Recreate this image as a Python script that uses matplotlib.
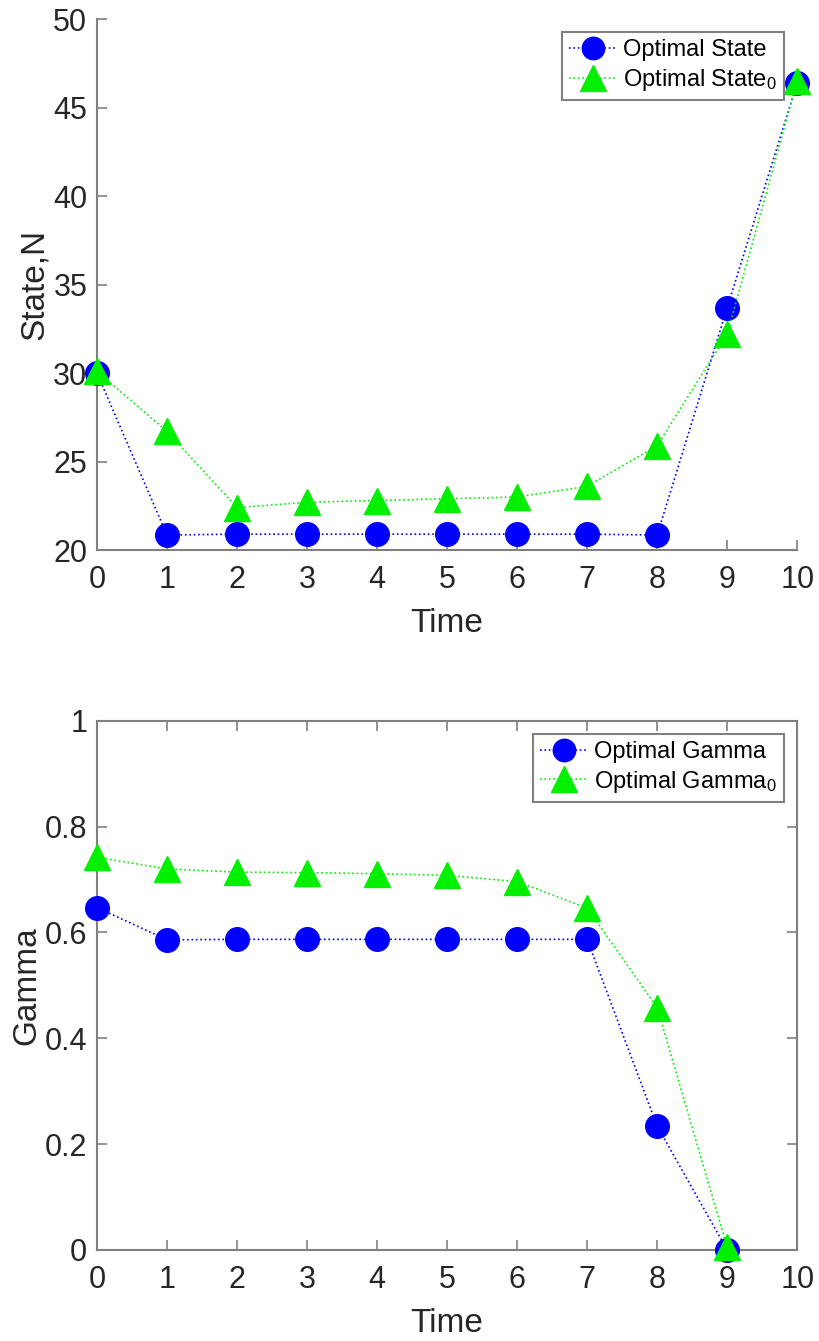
import numpy as np
import matplotlib
matplotlib.use("Agg")
import matplotlib.pyplot as plt

plt.rcParams['font.family'] = ['Liberation Sans', 'DejaVu Sans']
plt.rcParams['mathtext.default'] = 'regular'

# time steps
time_state = [0, 1, 2, 3, 4, 5, 6, 7, 8, 9, 10]
time_gamma = [0, 1, 2, 3, 4, 5, 6, 7, 8, 9]

# optimal state trajectories
state_opt = [30.0, 20.85, 20.9, 20.9, 20.9, 20.9, 20.9, 20.9, 20.85, 33.7, 46.4]
state_opt0 = [30.1, 26.7, 22.4, 22.7, 22.8, 22.9, 23.0, 23.6, 25.9, 32.2, 46.5]

# optimal gamma trajectories
gamma_opt = [0.647, 0.586, 0.587, 0.587, 0.587, 0.587, 0.587, 0.587, 0.234, 0.0]
gamma_opt0 = [0.742, 0.720, 0.714, 0.713, 0.711, 0.708, 0.696, 0.646, 0.458, 0.005]

AX_COLOR = '#808080'
TXT_COLOR = '#262626'
GREEN = '#00f000'


def style_axes(ax, box):
    for side in ['left', 'bottom', 'top', 'right']:
        ax.spines[side].set_color(AX_COLOR)
        ax.spines[side].set_linewidth(1.5)
    if not box:
        ax.spines['top'].set_visible(False)
        ax.spines['right'].set_visible(False)
    ax.tick_params(direction='in', length=7, width=1.2, color=AX_COLOR,
                   labelsize=22, labelcolor=TXT_COLOR, pad=7,
                   top=box, right=box)
    ax.tick_params(axis='x', pad=11)
    ax.set_xlim(0, 10)
    ax.set_xticks(range(0, 11))


def add_legend(ax):
    leg = ax.legend(loc='upper right', fontsize=17, handlelength=2.0,
                    markerscale=0.95, fancybox=False, framealpha=1,
                    borderaxespad=0.55, handletextpad=0.3,
                    borderpad=0.3, labelspacing=0.25)
    leg.get_frame().set_edgecolor(AX_COLOR)
    leg.get_frame().set_linewidth(1.5)
    return leg


fig = plt.figure(figsize=(8.19, 13.41), dpi=100)

# state plot
ax1 = fig.add_axes([0.1184, 0.5898, 0.855, 0.396])
ax1.plot(time_state, state_opt, ':', color='blue', lw=1.2, marker='o',
         markersize=17, label='Optimal State', clip_on=False, zorder=3)
ax1.plot(time_state, state_opt0, ':', color=GREEN, lw=1.2, marker='^',
         markersize=19, label='Optimal State$_0$', clip_on=False, zorder=4)
ax1.set_ylim(20, 50)
ax1.set_yticks(range(20, 51, 5))
style_axes(ax1, box=False)
ax1.set_xlabel('Time', fontsize=24, color=TXT_COLOR, labelpad=9)
ax1.set_ylabel('State,N', fontsize=24, color=TXT_COLOR, labelpad=2)
add_legend(ax1)

# gamma plot
ax2 = fig.add_axes([0.1184, 0.0679, 0.855, 0.3946])
ax2.plot(time_gamma, gamma_opt, ':', color='blue', lw=1.2, marker='o',
         markersize=17, label='Optimal Gamma', clip_on=False, zorder=3)
ax2.plot(time_gamma, gamma_opt0, ':', color=GREEN, lw=1.2, marker='^',
         markersize=19, label='Optimal Gamma$_0$', clip_on=False, zorder=4)
ax2.set_ylim(0, 1)
ax2.set_yticks([0, 0.2, 0.4, 0.6, 0.8, 1])
ax2.set_yticklabels(['0', '0.2', '0.4', '0.6', '0.8', '1'])
style_axes(ax2, box=True)
ax2.set_xlabel('Time', fontsize=24, color=TXT_COLOR, labelpad=9)
ax2.set_ylabel('Gamma', fontsize=24, color=TXT_COLOR, labelpad=2)
add_legend(ax2)

fig.savefig('out.png', dpi=100, facecolor='white')
